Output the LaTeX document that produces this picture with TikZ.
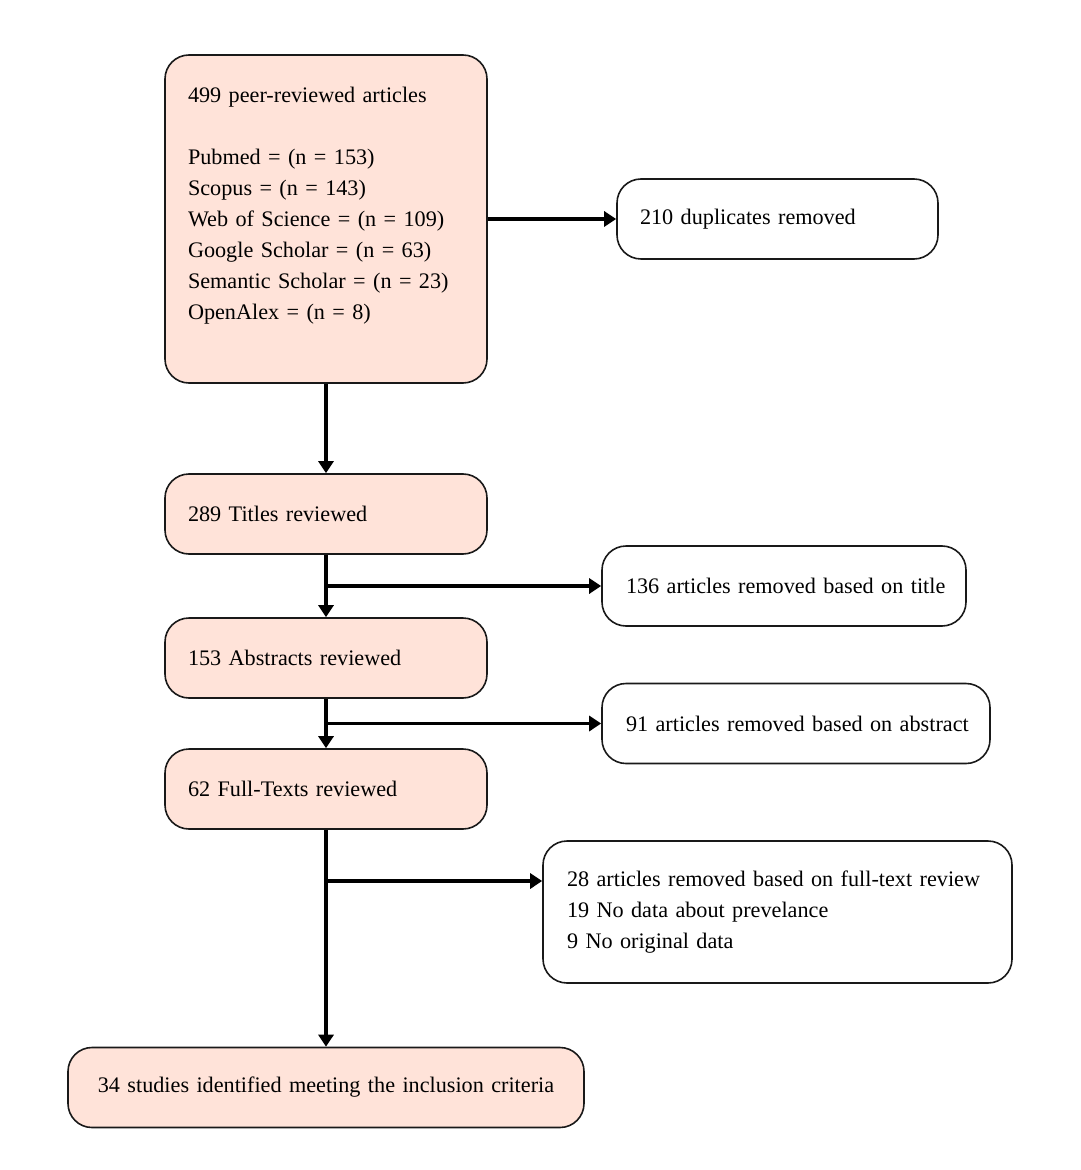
\documentclass[tikz,border=0pt]{standalone}
\usepackage{fontspec}
\setmainfont{Liberation Serif}
\usetikzlibrary{arrows.meta}
\definecolor{peach}{RGB}{255,227,217}
\hfuzz=20pt
\tikzset{stagebox/.style={draw=black!90, line width=0.8pt, rounded corners=12pt, fill=peach, minimum width=161pt, minimum height=40pt, text width=138pt, inner xsep=11.5pt, align=left, font=\fontsize{11.1}{15.5}\selectfont}}
\tikzset{removedbox/.style={stagebox, fill=white}}
\tikzset{flow/.style={line width=1.6pt, -{Triangle[length=6pt, width=7.5pt]}}}

\begin{document}
\begin{tikzpicture}[x=0.5pt, y=-0.5pt]
            \useasboundingbox (0, 0) rectangle (1080, 1170);
            \node[stagebox, minimum height=164pt] (found) at (326, 219) {499 peer-reviewed articles\\[15.5pt] Pubmed = (n = 153)\\ Scopus = (n = 143)\\ Web of Science = (n = 109)\\ Google Scholar = (n = 63)\\ Semantic Scholar = (n = 23)\\ OpenAlex = (n = 8)\\[-4pt] \strut};
            \node[removedbox, minimum width=160.5pt, text width=137.5pt] (dupes) at (777.5, 219) {210 duplicates removed};
            \node[stagebox] (titles) at (326, 514) {289 Titles reviewed};
            \node[removedbox, minimum width=182pt, text width=158pt] (notitle) at (784, 586) {\mbox{136 articles removed based on title}};
            \node[stagebox] (abstracts) at (326, 658) {153 Abstracts reviewed};
            \node[removedbox, minimum width=194pt, text width=170pt] (noabstract) at (796, 723.5) {\mbox{91 articles removed based on abstract}};
            \node[stagebox] (fulltexts) at (326, 789) {62 Full-Texts reviewed};
            \node[removedbox, minimum width=234.5pt, minimum height=71pt, text width=210.5pt] (nofull) at (777.5, 912) {28 articles removed based on full-text review\\ 19 No data about prevelance\\ 9 No original data};
            \node[stagebox, minimum width=258pt, text width=234pt, align=center] (included) at (326, 1087.5) {34 studies identified meeting the inclusion criteria};
            % flow down the left column
            \draw[flow] (found) -- (dupes);
            \draw[flow] (found) -- (titles);
            \draw[flow] (titles) -- (abstracts);
            \draw[flow] (abstracts) -- (fulltexts);
            \draw[flow] (fulltexts) -- (included);
            % side branches
            \coordinate (titlejoin) at (titles.south |- notitle.west);
            \coordinate (abstractjoin) at (abstracts.south |- noabstract.west);
            \coordinate (fulljoin) at (326, 881);
            \draw[flow] (titlejoin) -- (notitle.west);
            \draw[flow] (abstractjoin) -- (noabstract.west);
            \draw[flow] (fulljoin) -- (fulljoin -| nofull.west);
        \end{tikzpicture}
\end{document}
